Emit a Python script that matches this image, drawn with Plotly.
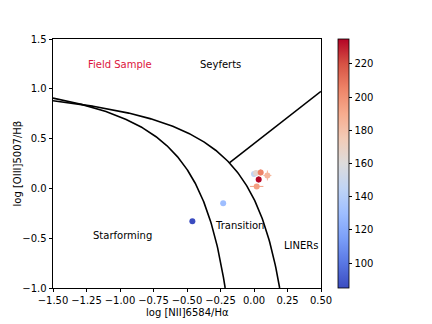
import numpy as np
import plotly.graph_objects as go
from plotly.colors import sample_colorscale

# measured points (log [NII]/Ha, log [OIII]/Hb) and colour value
nii_ha = [-0.46, -0.23, 0.00, 0.015, 0.05, 0.10, 0.035, 0.02]
oiii_hb = [-0.33, -0.15, 0.145, 0.155, 0.16, 0.13, 0.09, 0.02]
x_err = [0.01, 0.01, 0.015, 0.015, 0.015, 0.03, 0.015, 0.05]
y_err = [0.01, 0.02, 0.03, 0.03, 0.03, 0.05, 0.03, 0.02]
color_val = [85, 130, 145, 165, 205, 185, 235, 195]

# demarcation lines (Kauffmann 2003, Kewley 2001, Schawinski 2007)
kauff_a, kauff_b, kauff_c = 0.61, 0.05, 1.30
kewl_a, kewl_b, kewl_c = 0.61, 0.47, 1.19
seyf_slope, seyf_icpt = 1.05, 0.45
seyf_x = [-0.184, 0.5]

region_labels = ["Field Sample", "Seyferts", "Starforming", "Transition", "LINERs"]
label_x = [-1.0, -0.25, -0.98, -0.11, 0.35]
label_y = [1.24, 1.24, -0.47, -0.37, -0.57]
label_col = ["crimson", "black", "black", "black", "black"]

coolwarm = [
    [0.0, "#3b4cc0"], [0.1, "#5977e3"], [0.2, "#7b9ff9"], [0.3, "#9ebeff"],
    [0.4, "#c0d4f5"], [0.5, "#dddcdc"], [0.6, "#f2cbb7"], [0.7, "#f7ac8e"],
    [0.8, "#ee8468"], [0.9, "#d65244"], [1.0, "#b40426"],
]
cmin, cmax = 85, 235

fig = go.Figure()

xk = np.linspace(-1.5, kauff_b - kauff_a / (kauff_c + 1.0), 300)
fig.add_trace(go.Scatter(x=xk, y=kauff_a / (xk - kauff_b) + kauff_c, mode="lines",
                         line=dict(color="black", width=1.6), showlegend=False, hoverinfo="skip"))
xw = np.linspace(-1.5, kewl_b - kewl_a / (kewl_c + 1.0), 300)
fig.add_trace(go.Scatter(x=xw, y=kewl_a / (xw - kewl_b) + kewl_c, mode="lines",
                         line=dict(color="black", width=1.6), showlegend=False, hoverinfo="skip"))
xs = np.array(seyf_x)
fig.add_trace(go.Scatter(x=xs, y=seyf_slope * xs + seyf_icpt, mode="lines",
                         line=dict(color="black", width=1.6), showlegend=False, hoverinfo="skip"))

# error bars, one per point so each gets its own colour
norm = [(v - cmin) / (cmax - cmin) for v in color_val]
err_cols = sample_colorscale(coolwarm, norm)
for i in range(len(nii_ha)):
    fig.add_trace(go.Scatter(
        x=[nii_ha[i]], y=[oiii_hb[i]], mode="markers",
        marker=dict(size=1, color=err_cols[i], opacity=0),
        error_x=dict(type="data", array=[x_err[i]], color=err_cols[i], thickness=1, width=0),
        error_y=dict(type="data", array=[y_err[i]], color=err_cols[i], thickness=1, width=0),
        showlegend=False, hoverinfo="skip"))

fig.add_trace(go.Scatter(
    x=nii_ha, y=oiii_hb, mode="markers",
    marker=dict(size=6, color=color_val, colorscale=coolwarm, cmin=cmin, cmax=cmax,
                colorbar=dict(x=1.063, xanchor="left", xpad=0, y=0, yanchor="bottom",
                              len=1, lenmode="fraction", ypad=0, thickness=11,
                              outlinecolor="black", outlinewidth=0.8,
                              tickvals=[100, 120, 140, 160, 180, 200, 220],
                              ticks="outside", ticklen=3.5, tickcolor="black",
                              tickfont=dict(size=10, color="black"))),
    showlegend=False))

for t, lx, ly, c in zip(region_labels, label_x, label_y, label_col):
    fig.add_annotation(x=lx, y=ly, text=t, showarrow=False,
                       font=dict(size=10, color=c), xanchor="center", yanchor="middle")

# axis titles placed by hand
fig.add_annotation(x=0.5, y=0, xref="paper", yref="paper", yshift=-24,
                   text="log [NII]6584/Hα", showarrow=False,
                   xanchor="center", yanchor="middle", font=dict(size=10, color="black"))
fig.add_annotation(x=0, y=0.5, xref="paper", yref="paper", xshift=-36,
                   text="log [OIII]5007/Hβ", showarrow=False, textangle=-90,
                   xanchor="center", yanchor="middle", font=dict(size=10, color="black"))

axis_style = dict(showgrid=False, zeroline=False, showline=True, linecolor="black",
                  linewidth=0.8, mirror=True, ticks="outside", ticklen=3.5,
                  tickcolor="black", tickwidth=0.8, tickfont=dict(size=10, color="black"),
                  automargin=False)

fig.update_xaxes(range=[-1.5, 0.5], dtick=0.25, tickformat=".2f", **axis_style)
fig.update_yaxes(range=[-1.0, 1.5], dtick=0.5, tickformat=".1f", **axis_style)

# page body has an 8px margin, so shift the plot up/left to match
fig.update_layout(width=432, height=324,
                  margin=dict(l=45, r=119, t=31, b=44, autoexpand=False),
                  plot_bgcolor="white", paper_bgcolor="white",
                  font=dict(family="DejaVu Sans", size=10, color="black"))

fig.write_html("out.html")
